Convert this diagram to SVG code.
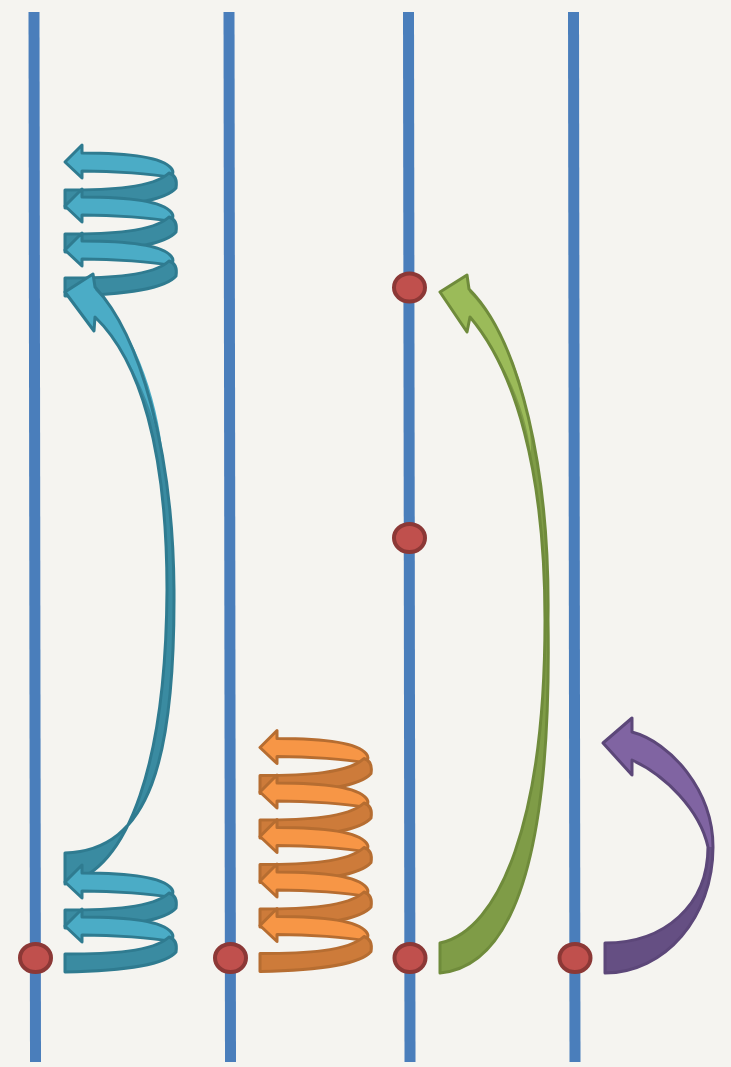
<svg xmlns="http://www.w3.org/2000/svg" xmlns:xlink="http://www.w3.org/1999/xlink" width="731" height="1067" viewBox="0 0 731 1067">
<style>
.line{stroke:#4a7ebb;stroke-width:11;fill:none}
.dot{fill:#c0504d;stroke:#8c3836;stroke-width:4}
.bb{fill:#4bacc6;stroke:#2f7b90;stroke-width:3;stroke-linejoin:round}
.bf{fill:#3a8ba1;stroke:#2f7b90;stroke-width:3;stroke-linejoin:round}
.ob{fill:#f79646;stroke:#b66d31;stroke-width:3;stroke-linejoin:round}
.of{fill:#cd7b3a;stroke:#b66d31;stroke-width:3;stroke-linejoin:round}
.outline{fill:none;stroke-width:3;stroke-linejoin:round}
</style>
<defs>
<path id="back" d="M0,0 L17,-17 L17,-9 C55,-9 96,-6 106,6 Q111,12 103,15 C88,12 50,9 17,9 L17,16 Z"/>
<path id="front" d="M0,28 C45,28 88,26 104,11 Q113,14 111,26 C100,39 55,45 0,46 Z"/>
<path id="bigBlue" d="M65,292 L93,274 L95,287 C140,335 173,450 174,590 C175,760 150,850 65,853 L65,884 C130,870 166,760 167,590 C167,450 140,360 95,317 L94,331 Z"/>
<path id="green" d="M440,292 L467,275 L469,289 C520,340 550,470 548,620 C551,800 530,965 440,973 L440,943 C500,930 545,820 545,620 C545,470 515,370 470,317 L467,332 Z"/>
<path id="purple" d="M603,743 L632,718 L632,732 C670,742 713,790 713,847 C713,917 665,973 605,973 L605,943 C665,943 708,905 708,847 C700,810 665,775 632,760 L632,775 Z"/>
</defs>
<rect width="731" height="1067" fill="#f5f4f0"/>
<g id="timelines">
<line class="line" x1="34" y1="12" x2="35.5" y2="1062"/>
<line class="line" x1="229" y1="12" x2="230.5" y2="1062"/>
<line class="line" x1="408.5" y1="12" x2="410" y2="1062"/>
<line class="line" x1="573.5" y1="12" x2="575" y2="1062"/>
</g>
<g id="node-a"><ellipse class="dot" cx="35.5" cy="958" rx="15.5" ry="14"/></g>
<g id="node-b"><ellipse class="dot" cx="230.5" cy="958" rx="15.5" ry="14"/></g>
<g id="node-c"><ellipse class="dot" cx="410" cy="958" rx="15.5" ry="14"/></g>
<g id="node-d"><ellipse class="dot" cx="575" cy="958" rx="15.5" ry="14"/></g>
<g id="node-e"><ellipse class="dot" cx="409.5" cy="287.5" rx="15.5" ry="14"/></g>
<g id="node-f"><ellipse class="dot" cx="409.5" cy="538" rx="15.5" ry="14"/></g>
<g id="connectors">
<g id="blue-spiral">
<use xlink:href="#back" class="bb" transform="translate(65,162)"/>
<use xlink:href="#front" class="bf" transform="translate(65,162)"/>
<use xlink:href="#back" class="bb" transform="translate(65,206)"/>
<use xlink:href="#front" class="bf" transform="translate(65,206)"/>
<use xlink:href="#back" class="bb" transform="translate(65,250)"/>
<use xlink:href="#front" class="bf" transform="translate(65,250)"/>
<use xlink:href="#bigBlue" fill="#3a8ba1"/>
<path d="M95,290 C138,334 161,410 164,470 C158,420 136,360 95,317 L94,331 L65,292 L93,274 Z" fill="#4bacc6"/>
<use xlink:href="#bigBlue" class="outline" stroke="#2f7b90"/>
<use xlink:href="#back" class="bb" transform="translate(65,882)"/>
<use xlink:href="#front" class="bf" transform="translate(65,882)"/>
<use xlink:href="#back" class="bb" transform="translate(65,926)"/>
<use xlink:href="#front" class="bf" transform="translate(65,926)"/>
</g>
<g id="orange-spiral">
<use xlink:href="#back" class="ob" transform="translate(260,747.5)"/>
<use xlink:href="#front" class="of" transform="translate(260,747.5)"/>
<use xlink:href="#back" class="ob" transform="translate(260,792)"/>
<use xlink:href="#front" class="of" transform="translate(260,792)"/>
<use xlink:href="#back" class="ob" transform="translate(260,836.5)"/>
<use xlink:href="#front" class="of" transform="translate(260,836.5)"/>
<use xlink:href="#back" class="ob" transform="translate(260,881)"/>
<use xlink:href="#front" class="of" transform="translate(260,881)"/>
<use xlink:href="#back" class="ob" transform="translate(260,925.5)"/>
<use xlink:href="#front" class="of" transform="translate(260,925.5)"/>
</g>
<g id="green-arrow">
<use xlink:href="#green" fill="#7f9c47"/>
<path d="M469,292 C515,340 532,410 531,455 C526,410 506,362 470,317 L467,332 L440,292 L467,275 Z" fill="#9bbb59"/>
<use xlink:href="#green" class="outline" stroke="#6f8b3b"/>
</g>
<g id="purple-arrow">
<use xlink:href="#purple" fill="#654f83"/>
<path d="M603,743 L632,718 L632,732 C670,742 713,790 713,847 L708,847 C700,810 665,775 632,760 L632,775 Z" fill="#8064a2"/>
<use xlink:href="#purple" class="outline" stroke="#5c4779"/>
</g>
</g>
</svg>
